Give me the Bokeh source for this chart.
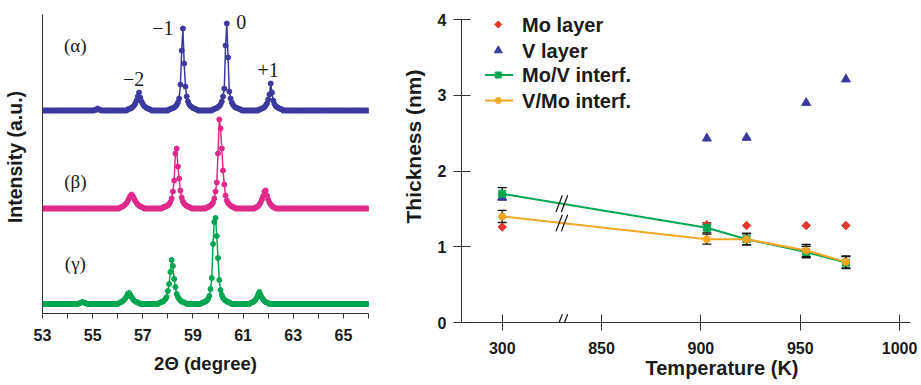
import numpy as np
from bokeh.plotting import figure
from bokeh.layouts import row
from bokeh.models import (FixedTicker, Whisker, TeeHead, ColumnDataSource, Arrow, Label,
                          Title)
from bokeh.embed import file_html
from bokeh.resources import INLINE

# ---------------- data: XRD spectra (left panel) ----------------
# sampling grid of the scans, 0.05 degree steps
two_theta = np.round(np.arange(53.0, 66.0 + 1e-9, 0.05), 2)
# intensity (a.u.) above each baseline; windows = (start 2theta, values every 0.05 deg),
# everything outside the windows is baseline (0)
alpha_windows = [
    (55.10, [0.5, 1, 2, 1, 0.5]),
    (56.40, [1, 1.5, 2, 2.5, 3.5, 5, 7, 10, 14, 18, 13, 9, 6.5, 4.5, 3.5, 2.5, 2, 1.5, 1]),
    (58.05, [1, 1.5, 2, 2.5, 3, 4, 5.5, 8, 12, 26, 60, 82, 47, 24, 14, 9, 6, 4.5, 3.5, 2.5, 2, 1.5, 1]),
    (59.80, [1, 1.5, 2, 2.5, 3.5, 4.5, 6, 9, 14, 22, 65, 87, 53, 19, 12, 8, 5.5, 4, 3, 2.5, 2, 1.5, 1]),
    (61.65, [1, 1.5, 2, 2.5, 3.5, 5, 7, 11, 16, 27, 18, 10, 6.5, 4.5, 3.5, 2.5, 2, 1.5, 1]),
]
beta_windows = [
    (56.10, [1, 1.5, 2, 3, 4, 5.5, 7.5, 10, 12.5, 14, 12.5, 10, 7.5, 5.5, 4, 3, 2, 1.5, 1]),
    (57.80, [1, 1.5, 2, 2.5, 3, 4.5, 6.5, 10, 17, 28, 55, 60, 42, 30, 18, 11, 7, 5, 3.5, 2.5, 2, 1.5, 1]),
    (59.55, [1, 1.5, 2, 3, 4, 6, 10, 17, 26, 55, 89, 80, 60, 38, 24, 13, 8, 5.5, 4, 3, 2, 1.5, 1]),
    (61.50, [1, 1.5, 2.5, 4, 6, 9, 12.5, 17, 18, 13, 9, 6, 4, 2.5, 1.5, 1]),
]
gamma_windows = [
    (54.45, [0.5, 1, 1.5, 2, 1.5, 1, 0.5]),
    (56.05, [1, 1.5, 2, 3, 4, 5.5, 7.5, 10, 11, 9, 7, 5, 3.5, 2.5, 2, 1.5, 1]),
    (57.65, [1, 1.5, 2, 2.5, 3.5, 5, 7, 13, 20, 32, 44, 38, 25, 17, 10, 7, 5, 3.5, 2.5, 2, 1.5, 1]),
    (59.35, [1, 1.5, 2, 2.5, 3.5, 5, 8, 15, 26, 60, 82, 86, 68, 46, 24, 14, 9, 6, 4.5, 3.5, 2.5, 2, 1.5, 1]),
    (61.30, [1, 1.5, 2, 3, 4.5, 6.5, 9.5, 12, 9, 6.5, 4.5, 3, 2, 1.5, 1]),
]
spectrum_names = ["(α)", "(β)", "(γ)"]
satellite_labels = ["−2", "−1", "0", "+1"]

# ---------------- data: thickness vs temperature (right panel) ----------------
temperature = [300, 903, 923, 953, 973]
mo_layer = [1.26, 1.29, 1.28, 1.28, 1.28]
v_layer = [1.65, 2.43, 2.44, 2.90, 3.21]
mov_interf = [1.70, 1.25, 1.10, 0.93, 0.79]
mov_err = [0.08, 0.066, 0.075, 0.075, 0.08]
vmo_interf = [1.40, 1.10, 1.10, 0.95, 0.80]
vmo_err = [0.08, 0.066, 0.075, 0.08, 0.08]
temp_ticks = [300, 850, 900, 950, 1000]
legend_labels = ["Mo layer", "V layer", "Mo/V interf.", "V/Mo interf."]

# ---------------- styling ----------------
SANS = "Liberation Sans"
SERIF = "Liberation Serif"
C_ALPHA = "#3d3a9e"
C_BETA = "#e0298a"
C_GAMMA = "#00a651"
C_RED = "#e2372b"
C_ORANGE = "#f5a623"
AXIS_C = "#333333"
TXT_C = "#1a1a1a"


def build(windows):
    y = np.zeros(len(two_theta))
    for start, vals in windows:
        i0 = int(round((start - 53.0) / 0.05))
        y[i0:i0 + len(vals)] = vals
    return y


# ================= left panel =================
# 1 data unit = 1 px vertically; the x axis sits at y = 0, the plotted top at 299
p1 = figure(width=391, height=376, x_range=(53, 66), y_range=(0, 313),
            output_backend="svg", toolbar_location=None,
            min_border_left=40, min_border_right=23, min_border_top=0,
            min_border_bottom=63)
p1.outline_line_color = None
p1.grid.visible = False

offsets = [203, 105, 9.5]
colors = [C_ALPHA, C_BETA, C_GAMMA]
for win, off, col in zip([alpha_windows, beta_windows, gamma_windows], offsets, colors):
    yy = build(win) + off
    p1.line(two_theta, yy, line_color=col, line_width=1.5)
    p1.scatter(two_theta, yy, size=5, fill_color=col, line_color=col)

xa = p1.xaxis[0]
xa.ticker = FixedTicker(ticks=list(range(53, 67, 2)), minor_ticks=list(range(54, 67, 2)))
xa.major_tick_in = 0
xa.major_tick_out = 5
xa.minor_tick_in = 0
xa.minor_tick_out = 5
xa.axis_line_color = AXIS_C
xa.major_tick_line_color = AXIS_C
xa.minor_tick_line_color = AXIS_C
xa.major_label_text_font = SANS
xa.major_label_text_font_style = "bold"
xa.major_label_text_font_size = "16px"
xa.major_label_text_color = TXT_C
xa.major_label_standoff = 10
xa.axis_label = "2Θ (degree)"
xa.axis_label_text_font = SANS
xa.axis_label_text_font_style = "bold"
xa.axis_label_text_font_size = "18.5px"
xa.axis_label_text_color = TXT_C
xa.axis_label_standoff = 9

ya = p1.yaxis[0]
ya.ticker = FixedTicker(ticks=[])
ya.major_tick_out = 0
ya.major_tick_in = 0
ya.minor_tick_out = 0
ya.minor_tick_in = 0
ya.major_label_standoff = 0
ya.axis_line_color = AXIS_C
ya.bounds = (0, 299)
ya.axis_label = "Intensity (a.u.)"
ya.axis_label_text_font = SANS
ya.axis_label_text_font_style = "bold"
ya.axis_label_text_font_size = "19.5px"
ya.axis_label_text_color = TXT_C
ya.axis_label_standoff = 17

# spectrum names and satellite order labels
name_pos = [(54.31, 268), (54.31, 132), (54.31, 50)]
for txt, (x, y) in zip(spectrum_names, name_pos):
    p1.add_layout(Label(x=x, y=y, text=txt, text_font=SERIF, text_font_size="19px",
                        text_align="center", text_baseline="middle", text_color=TXT_C))
sat_pos = [(56.63, 235), (57.80, 286), (60.93, 292), (62.0, 244)]
for txt, (x, y) in zip(satellite_labels, sat_pos):
    p1.add_layout(Label(x=x, y=y, text=txt, text_font=SERIF, text_font_size="20px",
                        text_align="center", text_baseline="middle", text_color=TXT_C))

# ================= right panel =================
BREAK_SHIFT = 500          # 300 K is drawn where 800 K would be (broken axis)
BREAK_AT = 830
PX_PER_UNIT = 75.75
FX0, FX1, FY_AX, FY_TOP = 458, 910, 322, 5   # frame box in page pixels
X0, X1 = 779.5, 1005.5
Y0, Y1 = 0, (FY_AX - FY_TOP) / PX_PER_UNIT


def tx(t):
    return t + BREAK_SHIFT if t < 850 else t


def px2x(px):
    return X0 + (px - FX0) * (X1 - X0) / (FX1 - FX0)


def py2y(py):
    return (FY_AX - py) / PX_PER_UNIT


xd = [tx(t) for t in temperature]

p2 = figure(width=530, height=380, x_range=(X0, X1), y_range=(Y0, Y1),
            output_backend="svg", toolbar_location=None,
            min_border_left=67, min_border_right=11, min_border_top=0,
            min_border_bottom=63)
p2.margin = (5, 0, 0, 0)
p2.outline_line_color = None
p2.grid.visible = False

src_mov = ColumnDataSource(dict(x=xd, y=mov_interf,
                                lo=[v - e for v, e in zip(mov_interf, mov_err)],
                                hi=[v + e for v, e in zip(mov_interf, mov_err)]))
src_vmo = ColumnDataSource(dict(x=xd, y=vmo_interf,
                                lo=[v - e for v, e in zip(vmo_interf, vmo_err)],
                                hi=[v + e for v, e in zip(vmo_interf, vmo_err)]))

for src in (src_mov, src_vmo):
    w = Whisker(source=src, base="x", lower="lo", upper="hi", line_color="#111111",
                line_width=1.3,
                upper_head=TeeHead(size=9, line_color="#111111", line_width=1.3),
                lower_head=TeeHead(size=9, line_color="#111111", line_width=1.3))
    w.level = "underlay"
    p2.add_layout(w)

MK = dict(
    mo=dict(marker="square", angle=np.pi / 4, size=6, fill_color=C_RED, line_color=C_RED),
    v=dict(marker="triangle", size=9, fill_color=C_ALPHA, line_color=C_ALPHA),
    mov=dict(marker="square", size=7, fill_color=C_GAMMA, line_color=C_GAMMA),
    vmo=dict(marker="circle", size=7, fill_color=C_ORANGE, line_color=C_ORANGE),
)
p2.scatter(xd, mo_layer, **MK["mo"])
p2.scatter(xd, v_layer, **MK["v"])
p2.line("x", "y", source=src_mov, line_color=C_GAMMA, line_width=2)
p2.scatter("x", "y", source=src_mov, **MK["mov"])
p2.line("x", "y", source=src_vmo, line_color=C_ORANGE, line_width=2)
p2.scatter("x", "y", source=src_vmo, **MK["vmo"])

# break marks "//" on the axis and on both lines
SL_W, SL_H, SL_GAP = 3.2, 0.22, 2.7
break_y = [0.0,
           float(np.interp(BREAK_AT, xd, mov_interf)),
           float(np.interp(BREAK_AT, xd, vmo_interf))]
for yc in break_y:
    for k in (-0.5, 0.5):
        cx = BREAK_AT + k * SL_GAP
        p2.add_layout(Arrow(start=None, end=None, x_start=cx - SL_W / 2, y_start=yc - SL_H / 2,
                            x_end=cx + SL_W / 2, y_end=yc + SL_H / 2,
                            line_color="#111111", line_width=1.2))

# legend (drawn as glyphs + text), positions given in page pixels
LEG_ROWS_PY = [24, 50, 74.5, 100]
LEG_MARK_PX, LEG_LINE_PX, LEG_TEXT_PX = 495, (481.7, 510), 519
leg_marks = [dict(MK["mo"], size=5), dict(MK["v"], size=8), dict(MK["mov"], size=6),
             dict(MK["vmo"], size=6)]
leg_lines = [None, None, C_GAMMA, C_ORANGE]
for lab, py, mk, lc in zip(legend_labels, LEG_ROWS_PY, leg_marks, leg_lines):
    yy = py2y(py)
    if lc:
        p2.line([px2x(LEG_LINE_PX[0]), px2x(LEG_LINE_PX[1])], [yy, yy], line_color=lc, line_width=2)
    p2.scatter([px2x(LEG_MARK_PX)], [yy], **mk)
    p2.add_layout(Label(x=px2x(LEG_TEXT_PX), y=yy, text=lab, text_font=SANS,
                        text_font_style="bold", text_font_size="20px", text_color=TXT_C,
                        text_align="left", text_baseline="middle"))

xb = p2.xaxis[0]
xb.ticker = FixedTicker(ticks=[tx(t) for t in temp_ticks])
xb.major_label_overrides = {tx(t): str(t) for t in temp_ticks}
xb.major_tick_in = 8
xb.major_tick_out = 8
xb.major_label_standoff = 11
yb = p2.yaxis[0]
yb.ticker = FixedTicker(ticks=[0, 1, 2, 3, 4])
yb.bounds = (0, 4)
yb.major_tick_in = 9
yb.major_tick_out = 8
yb.major_label_standoff = 7
for ax in (xb, yb):
    ax.minor_tick_out = 0
    ax.minor_tick_in = 0
    ax.axis_line_color = AXIS_C
    ax.major_tick_line_color = AXIS_C
    ax.major_label_text_font = SANS
    ax.major_label_text_font_style = "bold"
    ax.major_label_text_font_size = "16px"
    ax.major_label_text_color = TXT_C

# axis titles, placed off-centre like in the original
t_x = Title(text="Temperature (K)", align="left", offset=184, standoff=0,
            vertical_align="top", text_font=SANS, text_font_style="bold",
            text_font_size="20px", text_color=TXT_C)
p2.add_layout(t_x, "below")
t_y = Title(text="Thickness (nm)", align="left", offset=99, standoff=18,
            vertical_align="middle", text_font=SANS, text_font_style="bold",
            text_font_size="21px", text_color=TXT_C)
p2.add_layout(t_y, "left")

layout = row(p1, p2)
open("out.html", "w").write(file_html(layout, INLINE))
